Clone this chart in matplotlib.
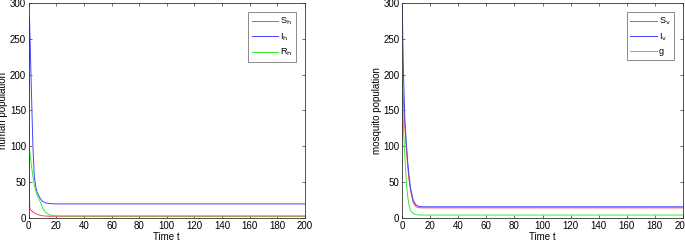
"""
plot.py
 Dinamica de poblaciones humana y de mosquitos
"""
import matplotlib.pyplot as plt

plt.rcParams['font.family'] = ['Liberation Sans', 'DejaVu Sans']

t_h = [0, 0.3, 0.5, 0.7, 1, 2, 3, 4, 5, 6, 8, 10, 12, 15, 20, 30, 200]
Sh  = [180, 60, 30, 15, 12, 10, 8.5, 7, 6, 5, 3.8, 3, 2.6, 2.3, 2.2, 2.2, 2.2]
Ih  = [100, 270, 280, 265, 245, 170, 100, 58, 44, 36, 28, 23, 21, 20, 19.5, 19.5, 19.5]
Rh  = [100, 97, 95, 92, 88, 72, 58, 46, 38, 32, 24, 14, 8, 4, 2.8, 2.8, 2.8]

t_v = [0, 0.3, 0.5, 1, 2, 3, 4, 5, 6, 8, 10, 12, 15, 20, 200]
Sv  = [100, 190, 180, 160, 128, 98, 72, 52, 38, 21, 15.5, 14.2, 14, 14, 14]
Iv  = [300, 275, 250, 200, 135, 105, 78, 58, 42, 24, 18, 16, 15.5, 15.5, 15.5]
g   = [200, 180, 160, 125, 85, 50, 30, 17, 10, 6, 4.5, 4, 4, 4, 4]

fig = plt.figure(figsize=(6.85, 2.44), dpi=100)
ax1 = fig.add_axes([0.042, 0.107, 0.403, 0.881])
ax2 = fig.add_axes([0.587, 0.107, 0.410, 0.881])

ax1.plot(t_h, Sh, color='#ff4444', lw=0.7, label=r'S$_\mathrm{h}$')
ax1.plot(t_h, Ih, color='#4444ff', lw=0.7, label=r'I$_\mathrm{h}$')
ax1.plot(t_h, Rh, color='#33ee33', lw=0.7, label=r'R$_\mathrm{h}$')
ax1.set_ylabel('human population', fontsize=7, labelpad=1)

ax2.plot(t_v, Sv, color='#ff4444', lw=0.7, label=r'S$_\mathrm{v}$')
ax2.plot(t_v, Iv, color='#4444ff', lw=0.7, label=r'I$_\mathrm{v}$')
ax2.plot(t_v, g, color='#33ee33', lw=0.7, label='g')
ax2.set_ylabel('mosquito population', fontsize=7, labelpad=1)

for ax in (ax1, ax2):
    ax.set_xlim(0, 200)
    ax.set_ylim(0, 300)
    ax.set_xticks(range(0, 201, 20))
    ax.set_yticks(range(0, 301, 50))
    ax.set_xlabel('Time t', fontsize=7, labelpad=1)
    ax.tick_params(direction='in', top=True, right=True, length=2.5, width=0.5,
                   labelsize=7, pad=2, color='#333333')
    for s in ax.spines.values():
        s.set_linewidth(0.6)
        s.set_color('#333333')
    leg = ax.legend(loc='upper right', bbox_to_anchor=(0.975, 0.965), fontsize=6.5,
                    fancybox=False, edgecolor='#555555', handlelength=2.9,
                    borderpad=0.4, labelspacing=0.45, handletextpad=0.25,
                    borderaxespad=0.2)
    leg.get_frame().set_linewidth(0.6)

plt.savefig('out.png', dpi=100)
